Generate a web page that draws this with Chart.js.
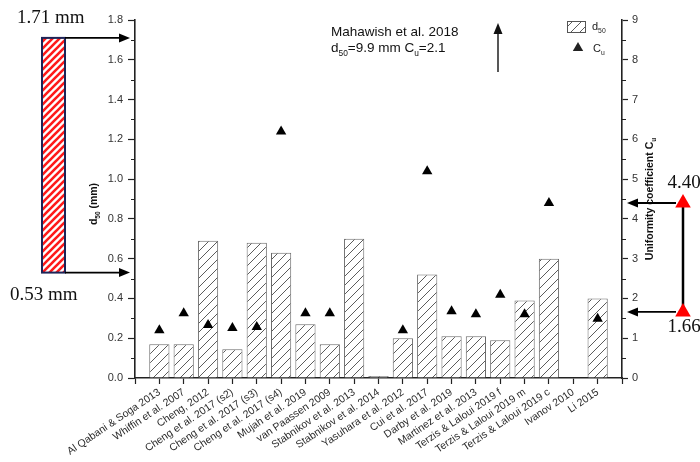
<!DOCTYPE html>
<html>
<head>
<meta charset="utf-8">
<script src="https://cdn.jsdelivr.net/npm/chart.js@4.4.1/dist/chart.umd.min.js"></script>
<style>
  html, body { margin: 0; padding: 0; background: #fff; }
  #wrap { width: 700px; height: 462px; }
</style>
</head>
<body>
<div id="wrap"><canvas id="c" width="700" height="462"></canvas></div>
<script>
// Studies compared (one bar per study)
const categories = [
  'Al Qabani & Soga 2013', 'Whiffin et al. 2007', 'Cheng, 2012',
  'Cheng et al. 2017 (s2)', 'Cheng et al. 2017 (s3)', 'Cheng et al. 2017 (s4)',
  'Mujah et al. 2019', 'van Paassen 2009', 'Stabnikov et al. 2013',
  'Stabnikov et al. 2014', 'Yasuhara et al. 2012', 'Cui et al. 2017',
  'Darby et al. 2019', 'Martinez et al. 2013', 'Terzis & Laloui 2019 f',
  'Terzis & Laloui 2019 m', 'Terzis & Laloui 2019 c', 'Ivanov 2010', 'Li 2015'
];

// Median grain size d50 (mm)
const d50 = [0.17, 0.17, 0.69, 0.145, 0.68, 0.63, 0.27, 0.17, 0.70, 0.01,
             0.20, 0.52, 0.21, 0.21, 0.19, 0.39, 0.60, null, 0.40];

// Uniformity coefficient Cu
const cu = [1.2, 1.63, 1.33, 1.26, 1.28, 6.2, 1.63, 1.63, null, null,
            1.2, 5.2, 1.68, 1.6, 2.09, 1.6, 4.4, null, 1.49];

// Axis ticks
const d50Ticks = [0, 0.2, 0.4, 0.6, 0.8, 1.0, 1.2, 1.4, 1.6, 1.8];
const cuTicks = [0, 1, 2, 3, 4, 5, 6, 7, 8, 9];

// Ranges marked beside the axes
const d50Range = [0.53, 1.71];
const cuRange = [1.66, 4.40];

// Off-scale study noted at the top
const offscale = { name: 'Mahawish et al. 2018', d50: 9.9, cu: 2.1 };

const FONT = '"Liberation Sans", Arial, Helvetica, sans-serif';
const SERIF = '"Liberation Serif", "Times New Roman", serif';
Chart.defaults.font.family = FONT;

const canvas = document.getElementById('c');
const mainCtx = canvas.getContext('2d');

function hatch(color, bg, size, lw) {
  const c = document.createElement('canvas');
  c.width = c.height = size;
  const g = c.getContext('2d');
  g.fillStyle = bg;
  g.fillRect(0, 0, size, size);
  g.strokeStyle = color;
  g.lineWidth = lw;
  g.beginPath();
  g.moveTo(-1, size + 1); g.lineTo(size + 1, -1);
  g.moveTo(-2, 2); g.lineTo(2, -2);
  g.moveTo(size - 2, size + 2); g.lineTo(size + 2, size - 2);
  g.stroke();
  return mainCtx.createPattern(c, 'repeat');
}

const barHatch = hatch('#4a4a4a', '#ffffff', 9, 0.9);
const redHatch = hatch('#ff1a1a', '#ffffff', 7, 2.6);

// Padded so the axis runs one category beyond the first and last study
const labels = ['', ...categories, ''];
const pad = arr => [null, ...arr, null];

function richText(ctx, parts, x, y, align, size, weight) {
  const font = s => `${weight} ${s}px ${FONT}`;
  let w = 0;
  const ws = parts.map(([t, sub]) => {
    ctx.font = font(sub ? size * 0.62 : size);
    const m = ctx.measureText(t).width;
    w += m;
    return m;
  });
  let cx = align === 'center' ? x - w / 2 : x;
  parts.forEach(([t, sub], i) => {
    ctx.font = font(sub ? size * 0.62 : size);
    ctx.fillText(t, cx, y + (sub ? size * 0.3 : 0));
    cx += ws[i];
  });
}

function arrow(ctx, x1, y1, x2, y2, lw, head, hw) {
  const ang = Math.atan2(y2 - y1, x2 - x1);
  const bx = x2 - Math.cos(ang) * head, by = y2 - Math.sin(ang) * head;
  ctx.lineWidth = lw;
  ctx.beginPath();
  ctx.moveTo(x1, y1);
  ctx.lineTo(bx, by);
  ctx.stroke();
  ctx.beginPath();
  ctx.moveTo(x2, y2);
  ctx.lineTo(bx + Math.sin(ang) * hw, by - Math.cos(ang) * hw);
  ctx.lineTo(bx - Math.sin(ang) * hw, by + Math.cos(ang) * hw);
  ctx.closePath();
  ctx.fill();
}

function triangle(ctx, x, y, r) {
  ctx.beginPath();
  for (let k = 0; k < 3; k++) {
    const a = k * 2 * Math.PI / 3;
    const px = x + Math.sin(a) * r, py = y - Math.cos(a) * r;
    k ? ctx.lineTo(px, py) : ctx.moveTo(px, py);
  }
  ctx.closePath();
  ctx.fill();
}

const decorations = {
  id: 'decorations',
  afterDraw(chart) {
    const { ctx, chartArea: a, scales: { y, y1 } } = chart;
    ctx.save();

    // minor ticks
    ctx.strokeStyle = '#222';
    ctx.lineWidth = 1.2;
    ctx.beginPath();
    for (let i = 0; i < d50Ticks.length - 1; i++) {
      const py = Math.round(y.getPixelForValue((d50Ticks[i] + d50Ticks[i + 1]) / 2)) + 0.5;
      ctx.moveTo(a.left - 4, py); ctx.lineTo(a.left, py);
    }
    for (let i = 0; i < cuTicks.length - 1; i++) {
      const py = Math.round(y1.getPixelForValue((cuTicks[i] + cuTicks[i + 1]) / 2)) + 0.5;
      ctx.moveTo(a.right, py); ctx.lineTo(a.right + 4, py);
    }
    ctx.stroke();

    // axis titles
    ctx.fillStyle = '#111';
    ctx.textBaseline = 'alphabetic';
    ctx.save();
    ctx.translate(97, (a.top + a.bottom) / 2 + 5);
    ctx.rotate(-Math.PI / 2);
    richText(ctx, [['d', false], ['50', true], [' (mm)', false]], 0, 0, 'center', 10.5, 'bold');
    ctx.restore();
    ctx.save();
    ctx.translate(653, (a.top + a.bottom) / 2);
    ctx.rotate(-Math.PI / 2);
    richText(ctx, [['Uniformity coefficient C', false], ['u', true]], 0, 0, 'center', 10.5, 'bold');
    ctx.restore();

    // legend
    ctx.fillStyle = barHatch;
    ctx.fillRect(567, 21, 18, 11);
    ctx.strokeStyle = '#555';
    ctx.lineWidth = 1;
    ctx.strokeRect(567.5, 21.5, 18, 11);
    ctx.fillStyle = '#222';
    richText(ctx, [['d', false], ['50', true]], 592, 30, 'left', 11, 'normal');
    triangle(ctx, 578, 48, 6);
    richText(ctx, [['C', false], ['u', true]], 593, 52, 'left', 11, 'normal');

    // off-scale study note
    ctx.fillStyle = '#111';
    ctx.font = `13.5px ${FONT}`;
    ctx.fillText(offscale.name, 331, 36);
    richText(ctx, [['d', false], ['50', true], [`=${offscale.d50.toFixed(1)} mm C`, false], ['u', true], [`=${offscale.cu.toFixed(1)}`, false]],
      331, 52, 'left', 13.5, 'normal');
    ctx.strokeStyle = '#111';
    arrow(ctx, 498, 72, 498, 23, 1.4, 11, 4.5);

    // d50 range marker on the left
    const yTop = y.getPixelForValue(d50Range[1]);
    const yBot = y.getPixelForValue(d50Range[0]);
    ctx.fillStyle = redHatch;
    ctx.fillRect(42, yTop, 23, yBot - yTop);
    ctx.strokeStyle = '#1d2457';
    ctx.lineWidth = 2;
    ctx.strokeRect(42, yTop, 23, yBot - yTop);
    ctx.strokeStyle = '#000';
    ctx.fillStyle = '#000';
    arrow(ctx, 65, yTop, 130, yTop, 1.8, 11, 4.5);
    arrow(ctx, 65, yBot, 130, yBot, 1.8, 11, 4.5);
    ctx.font = `19px ${SERIF}`;
    ctx.fillStyle = '#111';
    ctx.textAlign = 'left';
    ctx.fillText(`${d50Range[1].toFixed(2)} mm`, 17, 23);
    ctx.fillText(`${d50Range[0].toFixed(2)} mm`, 10, 300);

    // Cu range marker on the right
    const cTop = y1.getPixelForValue(cuRange[1]);
    const cBot = y1.getPixelForValue(cuRange[0]);
    ctx.strokeStyle = '#000';
    ctx.lineWidth = 2.5;
    ctx.beginPath();
    ctx.moveTo(683, cTop); ctx.lineTo(683, cBot);
    ctx.stroke();
    ctx.fillStyle = '#000';
    arrow(ctx, 676, cTop, 627, cTop, 1.8, 11, 4.5);
    arrow(ctx, 676, cBot, 627, cBot, 1.8, 11, 4.5);
    ctx.fillStyle = '#ff0000';
    triangle(ctx, 683, cTop, 9);
    triangle(ctx, 683, cBot, 9);
    ctx.fillStyle = '#111';
    ctx.textAlign = 'center';
    ctx.fillText(cuRange[1].toFixed(2), 684, 188);
    ctx.fillText(cuRange[0].toFixed(2), 684, 332);

    ctx.restore();
  }
};

new Chart(canvas, {
  data: {
    labels,
    datasets: [
      {
        type: 'bar',
        label: 'd50',
        data: pad(d50),
        yAxisID: 'y',
        backgroundColor: barHatch,
        borderColor: '#6a6a6a',
        borderWidth: 1,
        categoryPercentage: 1,
        barPercentage: 0.83,
        order: 2
      },
      {
        type: 'line',
        label: 'Cu',
        data: pad(cu),
        yAxisID: 'y1',
        showLine: false,
        pointStyle: 'triangle',
        pointRadius: 6,
        pointHoverRadius: 6,
        pointBackgroundColor: '#000',
        pointBorderWidth: 0,
        order: 1
      }
    ]
  },
  options: {
    responsive: false,
    animation: false,
    events: [],
    layout: { padding: { top: 20, left: 0, right: 0, bottom: 0 } },
    plugins: { legend: { display: false }, tooltip: { enabled: false } },
    scales: {
      x: {
        type: 'category',
        offset: false,
        grid: { offset: false, drawOnChartArea: false, drawTicks: true, tickLength: 6, tickColor: '#222', tickWidth: 1.2 },
        border: { display: true, color: '#222', width: 1.6 },
        ticks: { autoSkip: false, minRotation: 34, maxRotation: 34, padding: 2, color: '#2a2a2a', font: { size: 10.5 } },
        afterFit(s) { s.height = 84; }
      },
      y: {
        position: 'left',
        min: d50Ticks[0],
        max: d50Ticks[d50Ticks.length - 1],
        afterBuildTicks(s) { s.ticks = d50Ticks.map(v => ({ value: v })); },
        grid: { drawOnChartArea: false, drawTicks: true, tickLength: 7, tickColor: '#222', tickWidth: 1.2 },
        border: { display: true, color: '#222', width: 1.6 },
        ticks: { padding: 5, color: '#333', font: { size: 11 }, callback: v => Number(v).toFixed(1) },
        afterFit(s) { s.width = 135; }
      },
      y1: {
        position: 'right',
        min: cuTicks[0],
        max: cuTicks[cuTicks.length - 1],
        afterBuildTicks(s) { s.ticks = cuTicks.map(v => ({ value: v })); },
        grid: { drawOnChartArea: false, drawTicks: true, tickLength: 6, tickColor: '#222', tickWidth: 1.2 },
        border: { display: true, color: '#222', width: 1.6 },
        ticks: { padding: 4, color: '#333', font: { size: 11 }, callback: v => String(v) },
        afterFit(s) { s.width = 78; }
      }
    }
  },
  plugins: [decorations]
});
</script>
</body>
</html>
